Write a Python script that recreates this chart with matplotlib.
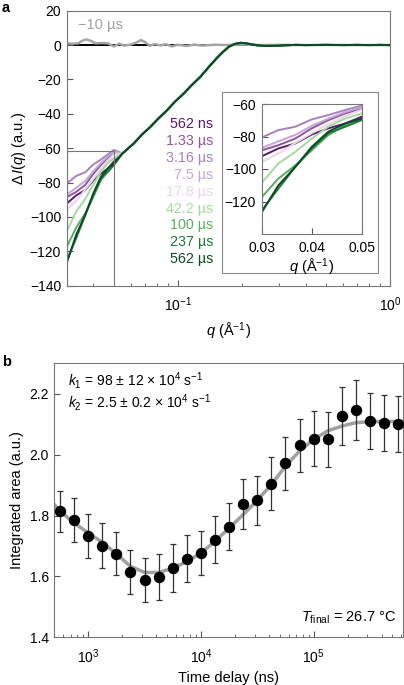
import numpy as np
import matplotlib
matplotlib.use('Agg')
import matplotlib.pyplot as plt
from matplotlib.patches import Rectangle
from matplotlib.ticker import NullFormatter

plt.rcParams['font.family'] = ['Liberation Sans', 'DejaVu Sans']
plt.rcParams['mathtext.fontset'] = 'custom'
plt.rcParams['mathtext.rm'] = 'Liberation Sans'
plt.rcParams['mathtext.it'] = 'Liberation Sans:italic'
plt.rcParams['mathtext.bf'] = 'Liberation Sans:bold'
plt.rcParams['font.size'] = 10

# ---------------- panel a data ----------------
labels = ['562 ns', '1.33 µs', '3.16 µs', '7.5 µs', '17.8 µs',
          '42.2 µs', '100 µs', '237 µs', '562 µs']
colors = ['#5b1a6b', '#8c55a0', '#a582bd', '#c4a5d6', '#e9d5ec',
          '#a5d99c', '#5aae61', '#1b7a3a', '#0b4a25']

# low-q part (read per curve)
q_low = [0.030, 0.0333, 0.0367, 0.040, 0.0433, 0.0467, 0.050]
dI_562ns = [-92.2, -87.4, -84.3, -78.8, -75.0, -72.0, -67.8]
dI_1p33us = [-88.5, -85.4, -81.3, -75.0, -70.0, -65.8, -62.7]
dI_3p16us = [-80.6, -76.1, -74.0, -69.5, -66.8, -63.7, -61.0]
dI_7p5us = [-87.0, -83.0, -79.0, -73.5, -69.0, -65.0, -62.0]
dI_17p8us = [-95.7, -90.5, -84.0, -78.0, -72.5, -67.5, -63.5]
dI_42p2us = [-108.5, -96.7, -89.5, -81.3, -74.0, -68.9, -65.8]
dI_100us = [-117.4, -106.0, -97.8, -88.5, -79.2, -73.0, -68.9]
dI_237us = [-125.6, -112.2, -98.8, -87.4, -78.1, -74.0, -69.9]
dI_562us = [-126.7, -110.2, -98.8, -86.4, -77.1, -72.0, -68.9]
low_sets = [dI_562ns, dI_1p33us, dI_3p16us, dI_7p5us, dI_17p8us,
            dI_42p2us, dI_100us, dI_237us, dI_562us]

# higher-q part, all curves lie on top of each other
q_high = [0.055, 0.062, 0.068, 0.0743, 0.081, 0.0891, 0.097, 0.1067, 0.116,
          0.128, 0.14, 0.153, 0.164, 0.174, 0.185, 0.198, 0.21, 0.225, 0.24,
          0.26, 0.29, 0.32, 0.36, 0.4, 0.5, 0.6, 0.7, 0.8, 0.9, 1.0]
dI_high = [-63.0, -57.3, -52.0, -47.6, -42.8, -37.9, -33.0, -28.2, -23.5,
           -18.4, -12.8, -7.5, -3.8, -1.0, 0.6, 1.3, 1.0, 0.3, -0.2,
           -0.5, -0.4, -0.1, 0.1, 0.0, 0.1, 0.0, 0.1, 0.0, 0.1, 0.0]

# -10 us reference curve
q_neg = [0.030, 0.032, 0.034, 0.0355, 0.037, 0.039, 0.041, 0.044, 0.047, 0.050,
         0.053, 0.056, 0.060, 0.064, 0.067, 0.070, 0.074, 0.078, 0.083, 0.088,
         0.094, 0.10, 0.11, 0.12, 0.13, 0.15, 0.17, 0.2, 0.25, 0.3, 0.4, 0.5,
         0.7, 1.0]
dI_neg = [1.0, 0.8, 1.0, 2.5, 3.3, 2.5, 1.0, 1.2, 1.0, -0.8,
          0.8, -0.3, 0.3, 1.5, 2.9, 1.8, -0.4, 0.6, -0.2, 0.5,
          -0.8, 0.2, -0.5, 0.3, -0.3, 0.2, 0.0, 0.3, 0.0, 0.1, 0.0, 0.1,
          0.0, 0.0]

# ---------------- panel b data ----------------
t_delay = [562, 750, 1000, 1330, 1780, 2370, 3160, 4220, 5620, 7500,
           10000, 13300, 17800, 23700, 31600, 42200, 56200, 75000, 100000,
           133000, 178000, 237000, 316000, 422000, 562000]
area = [1.814, 1.784, 1.734, 1.701, 1.674, 1.614, 1.589, 1.598, 1.627, 1.658,
        1.677, 1.721, 1.763, 1.838, 1.850, 1.905, 1.971, 2.030, 2.052,
        2.050, 2.127, 2.146, 2.110, 2.103, 2.100]
area_err = [0.068, 0.072, 0.072, 0.073, 0.071, 0.073, 0.073, 0.076, 0.078, 0.077,
            0.072, 0.077, 0.077, 0.082, 0.081, 0.087, 0.086, 0.087, 0.090,
            0.089, 0.094, 0.098, 0.092, 0.092, 0.091]
t_fit = [500, 562, 750, 1000, 1330, 1780, 2370, 3160, 4220, 5620, 7500, 10000,
         13300, 17800, 23700, 31600, 42200, 56200, 75000, 100000, 133000,
         178000, 237000, 316000, 422000, 620000]
area_fit = [1.836, 1.815, 1.775, 1.743, 1.712, 1.674, 1.633, 1.613, 1.613, 1.627,
            1.649, 1.677, 1.715, 1.759, 1.803, 1.850, 1.902, 1.962, 2.012,
            2.050, 2.078, 2.094, 2.105, 2.108, 2.109, 2.109]

W, H = 404, 685
fig = plt.figure(figsize=(W / 100, H / 100), dpi=100)


def frac(left, top, right, bottom):
    return [left / W, 1 - bottom / H, (right - left) / W, (bottom - top) / H]


def style_axis(ax, xpad=6):
    ax.tick_params(which='both', direction='in', top=False, right=False,
                   labelsize=10, color='#555555')
    ax.tick_params(axis='x', which='both', pad=xpad)
    ax.tick_params(axis='y', which='both', pad=4)
    ax.tick_params(which='major', length=4)
    ax.tick_params(which='minor', length=2.5)
    for s in ax.spines.values():
        s.set_color('#777777')
        s.set_linewidth(0.8)


# ---------------- panel a ----------------
ax = fig.add_axes(frac(66.7, 10.7, 390, 285.7))
ax.axhline(0, color='black', lw=1.4, zorder=1)
ax.plot(q_neg, dI_neg, color='#a5a5a5', lw=1.8, zorder=2)
for vals, c in zip(low_sets, colors):
    ax.plot(q_low + q_high, vals + dI_high, color=c, lw=1.4, zorder=3)
ax.add_patch(Rectangle((0.03, -140), 0.02, 78.5, fill=False,
                       edgecolor='#777777', lw=0.8, zorder=4))
ax.set_xscale('log')
ax.set_xlim(0.03, 1.0)
ax.set_ylim(-140, 20)
ax.set_yticks(np.arange(-140, 21, 20))
ax.xaxis.set_minor_formatter(NullFormatter())
ax.set_xlabel(r'$q$ (Å$^{-1}$)', fontsize=10.5, labelpad=5)
ax.set_ylabel(r'$\Delta\,I(q)$ (a.u.)', fontsize=10.5, labelpad=1)
style_axis(ax, xpad=7)

ax.text(0.035, 0.948, '−10 µs', color='#a0a0a0', fontsize=10.5,
        ha='left', va='center', transform=ax.transAxes)
for i, (lab, c) in enumerate(zip(labels, colors)):
    ax.text(0.4534, 0.588 - i * 0.0615, lab, color=c, fontsize=10.3,
            ha='right', va='center', transform=ax.transAxes)

# frame around the inset
fig.add_artist(Rectangle((221.7 / W, 1 - 273.3 / H), (378 - 221.7) / W,
                         (273.3 - 92.3) / H, transform=fig.transFigure,
                         facecolor='white', edgecolor='#888888', lw=0.8,
                         zorder=1))

axi = fig.add_axes(frac(261.7, 104, 361.7, 234))
axi.set_zorder(2)
for vals, c in zip(low_sets, colors):
    axi.plot(q_low + q_high, vals + dI_high, color=c, lw=1.4)
axi.set_xlim(0.03, 0.05)
axi.set_ylim(-140, -60)
axi.set_xticks([0.03, 0.04, 0.05])
axi.set_xticklabels(['0.03', '0.04', '0.05'])
axi.set_yticks([-120, -100, -80, -60])
axi.set_xlabel(r'$q$ (Å$^{-1}$)', fontsize=10.5, labelpad=1)
style_axis(axi, xpad=5)

# ---------------- panel b ----------------
axb = fig.add_axes(frac(54.3, 363.3, 403, 637.3))
axb.plot(t_fit, area_fit, color='#a0a0a0', lw=2.5, zorder=2)
axb.errorbar(t_delay, area, yerr=area_err, fmt='o', color='black',
             ms=7.2, ecolor='#333333', elinewidth=0.9, capsize=2.4,
             capthick=0.9, zorder=3)
axb.set_xscale('log')
axb.set_xlim(500, 6.2e5)
axb.set_ylim(1.4, 2.3)
axb.set_yticks([1.4, 1.6, 1.8, 2.0, 2.2])
axb.set_yticklabels(['1.4', '1.6', '1.8', '2.0', '2.2'])
axb.xaxis.set_minor_formatter(NullFormatter())
axb.set_xlabel('Time delay (ns)', fontsize=10.5, labelpad=4)
axb.set_ylabel('Integrated area (a.u.)', fontsize=10.5, labelpad=4)
style_axis(axb, xpad=7)

axb.text(0.039, 0.939, r'$k_1$ = 98 ± 12 × 10$^4$ s$^{-1}$', fontsize=10,
         ha='left', va='center', transform=axb.transAxes)
axb.text(0.039, 0.856, r'$k_2$ = 2.5 ± 0.2 × 10$^4$ s$^{-1}$', fontsize=10,
         ha='left', va='center', transform=axb.transAxes)
axb.text(0.98, 0.07, r'$T_{\rm final}$ = 26.7 °C', fontsize=10.5,
         ha='right', va='center', transform=axb.transAxes)

fig.text(0.004, 0.999, 'a', fontsize=10.5, fontweight='bold', ha='left', va='top')
fig.text(0.006, 1 - 362 / H, 'b', fontsize=10.5, fontweight='bold',
         ha='left', va='center')

fig.savefig('out.png', dpi=100)
